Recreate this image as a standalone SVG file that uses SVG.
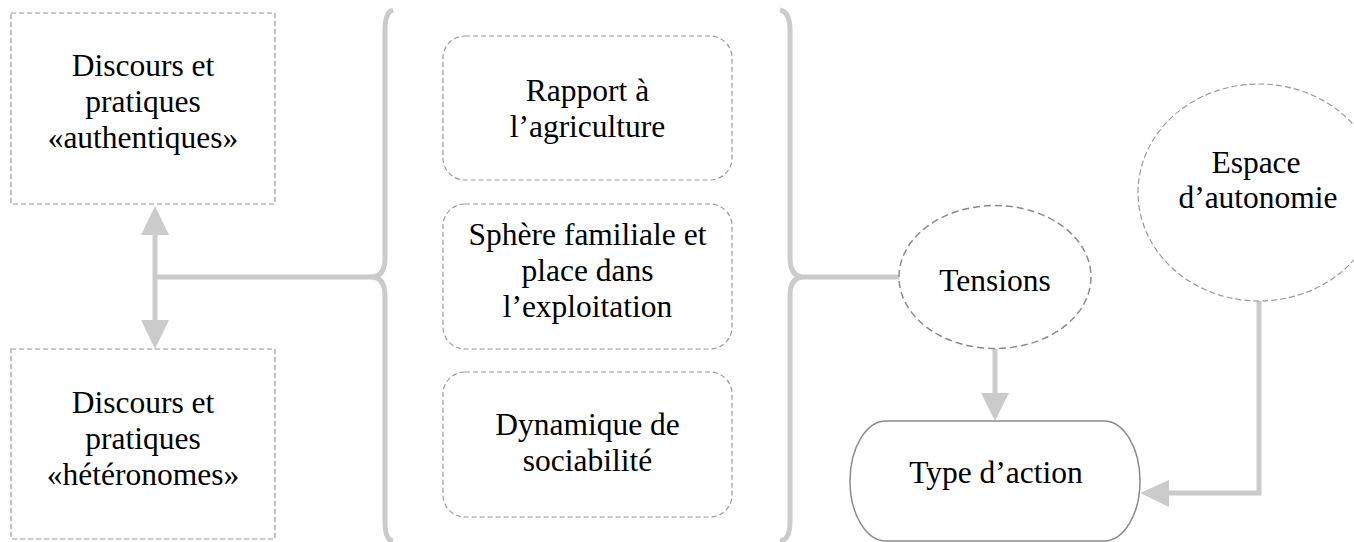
<svg xmlns="http://www.w3.org/2000/svg" width="1354" height="542" viewBox="0 0 1354 542">
<style>
text{font-family:"Liberation Serif","Times New Roman",serif;font-size:31.5px;fill:#000;text-anchor:middle}
.box{fill:#fff;stroke:#9a9a9a;stroke-width:1.2;stroke-dasharray:5 3}
.conn{fill:none;stroke:#cbcbcb;stroke-width:5}
.head{fill:#cbcbcb}
</style>
<g id="connectors">
<path class="conn" d="M155,232 L155,277 L372,277 M155,277 L155,322"/>
<polygon class="head" points="155,206 141,235 169,235"/>
<polygon class="head" points="155,349 141,320 169,320"/>
<path class="conn" d="M393,10 Q385,12 385,30 L385,258 Q385,277 371,277 Q385,277 385,296 L385,522 Q385,540 393,541"/>
<path class="conn" d="M780,10 Q790,12 790,30 L790,258 Q790,277 804,277 Q790,277 790,296 L790,522 Q790,540 780,541"/>
<path class="conn" d="M804,277 L899,277"/>
<path class="conn" d="M995,348 L995,396"/>
<polygon class="head" points="995,421 981,393 1009,393"/>
<path class="conn" d="M1259,301 L1259,493 L1166,493"/>
<polygon class="head" points="1140,493 1169,480 1169,507"/>
</g>
<g id="n-authentiques">
<rect class="box" x="11" y="13" width="264" height="191"/>
<text x="143" y="76">Discours et</text>
<text x="143" y="112">pratiques</text>
<text x="143" y="148">«authentiques»</text>
</g>
<g id="n-heteronomes">
<rect class="box" x="11" y="349" width="264" height="190"/>
<text x="143" y="413">Discours et</text>
<text x="143" y="449">pratiques</text>
<text x="143" y="485">«hétéronomes»</text>
</g>
<g id="n-rapport">
<rect class="box" x="443" y="36" width="289" height="144" rx="22"/>
<text x="587.5" y="101">Rapport à</text>
<text x="587.5" y="137">l’agriculture</text>
</g>
<g id="n-sphere">
<rect class="box" x="443" y="204" width="289" height="145" rx="22"/>
<text x="587.5" y="245">Sphère familiale et</text>
<text x="587.5" y="281">place dans</text>
<text x="587.5" y="317">l’exploitation</text>
</g>
<g id="n-dynamique">
<rect class="box" x="443" y="372" width="289" height="145" rx="22"/>
<text x="587.5" y="435">Dynamique de</text>
<text x="587.5" y="471">sociabilité</text>
</g>
<g id="n-tensions">
<ellipse cx="995" cy="277" rx="96" ry="71.5" fill="#fff" stroke="#8a8a8a" stroke-width="1.5" stroke-dasharray="7 4"/>
<text x="995" y="291">Tensions</text>
</g>
<g id="n-espace">
<ellipse cx="1259" cy="192.5" rx="121" ry="108.5" fill="#fff" stroke="#9a9a9a" stroke-width="1.2" stroke-dasharray="6 3"/>
<text x="1256" y="173">Espace</text>
<text x="1258" y="208">d’autonomie</text>
</g>
<g id="n-action">
<rect x="850" y="421" width="290" height="120" rx="36" ry="60" fill="#fff" stroke="#8a8a8a" stroke-width="1.5"/>
<text x="996" y="483">Type d’action</text>
</g>
</svg>
